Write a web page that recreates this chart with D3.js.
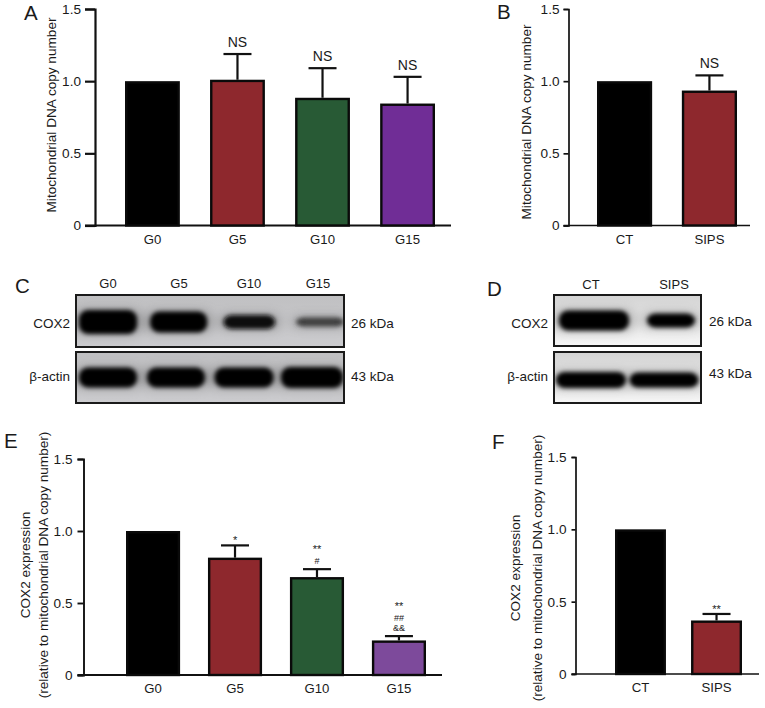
<!DOCTYPE html>
<html><head><meta charset="utf-8">
<script src="https://cdn.jsdelivr.net/npm/d3@7"></script>
<style>html,body{margin:0;background:#fff}svg{display:block}text{font-family:"Liberation Sans",Arial,sans-serif;fill:#1a1a1a}</style>
</head><body><svg id="c" width="765" height="708"></svg>
<script>
// Bar chart data
const groupsLong = ["G0","G5","G10","G15"];
const groupsShort = ["CT","SIPS"];
const yTicks = [0,0.5,1,1.5];
const coloursLong = ["#000000","#8e282d","#285a35","#702d96"];
const coloursLongE = ["#000000","#8e282d","#285a35","#7d4a9b"];
const coloursShort = ["#000000","#8e282d"];
const aValues = [1.0,1.01,0.885,0.845];
const aErrors = [0,0.178,0.205,0.185];
const aMarks = [[],["NS"],["NS"],["NS"]];
const bValues = [1.0,0.935];
const bErrors = [0,0.105];
const bMarks = [[],["NS"]];
const eValues = [1.0,0.815,0.68,0.24];
const eErrors = [0,0.085,0.055,0.03];
const eMarks = [[],["*"],["**","#"],["**","##","&&"]];
const fValues = [1.0,0.37];
const fErrors = [0,0.045];
const fMarks = [[],["**"]];
// Blot data (estimated band strength per lane)
const cBandWidth = [[58,57,52,48],[58,58,59,62]];
const cBandHeight = [[24,21,14,9],[20,20,20,21]];
const cBandTone = [[0,0,0.06,0.34],[0,0,0,0]];
const dBandWidth = [[70,48],[70,69]];
const dBandHeight = [[20,14],[16,15]];
const dBandTone = [[0,0],[0,0]];

const svg = d3.select("#c");
const defs = svg.append("defs");
[["blur",2.2],["halo",6]].forEach(([id,s])=>defs.append("filter").attr("id",id)
  .attr("filterUnits","userSpaceOnUse").attr("x",0).attr("y",260).attr("width",765).attr("height",170)
  .append("feGaussianBlur").attr("stdDeviation",s));

function barPanel(o){
  const x = d3.scaleBand().domain(o.cats).range(o.br).paddingInner(o.pi).paddingOuter(0);
  const y = d3.scaleLinear().domain([0,1.5]).range([o.y0,o.y1]);
  const g = svg.append("g");
  const ax = d3.axisLeft(y).tickValues(yTicks).tickSize(o.tl).tickPadding(o.tp)
    .tickFormat(d=>d===0?"0":d3.format(".1f")(d));
  const ag = g.append("g").attr("transform",`translate(${o.xr[0]},0)`).call(ax);
  ag.select(".domain").attr("stroke","#111").attr("stroke-width",o.sw);
  ag.selectAll(".tick line").attr("stroke","#111").attr("stroke-width",o.sw);
  ag.selectAll("text").attr("font-size",13.6).attr("fill","#222");
  const bx = d3.axisBottom(x).tickSize(0).tickPadding(9);
  const bg = g.append("g").attr("transform",`translate(0,${o.y0})`).call(bx);
  bg.select(".domain").remove();
  bg.append("line").attr("x1",o.xr[0]-o.tl).attr("x2",o.xr[1]).attr("stroke","#111").attr("stroke-width",o.sw);
  bg.selectAll("text").attr("font-size",13.2).attr("fill","#222");
  const items = o.cats.map((c,i)=>({c,v:o.vals[i],e:o.errs[i],col:o.cols[i],m:o.marks[i]}));
  const w = x.bandwidth();
  const it = g.selectAll(".b").data(items).join("g");
  it.filter(d=>d.e>0).append("line")
    .attr("x1",d=>x(d.c)+w/2).attr("x2",d=>x(d.c)+w/2)
    .attr("y1",d=>y(d.v)).attr("y2",d=>y(d.v+d.e)).attr("stroke","#111").attr("stroke-width",2.2);
  it.filter(d=>d.e>0).append("line")
    .attr("x1",d=>x(d.c)+w/2-14).attr("x2",d=>x(d.c)+w/2+14)
    .attr("y1",d=>y(d.v+d.e)).attr("y2",d=>y(d.v+d.e)).attr("stroke","#111").attr("stroke-width",2.2);
  it.append("rect").attr("x",d=>x(d.c)+1.2).attr("width",w-2.4)
    .attr("y",d=>y(d.v)+1.2).attr("height",d=>o.y0-y(d.v)-1.2)
    .attr("fill",d=>d.col).attr("stroke","#0a0a0a").attr("stroke-width",2.4);
  it.each(function(d){
    const top = y(d.v+d.e), n=d.m.length, big = d.m[0]==="NS";
    d3.select(this).selectAll("text").data(d.m).join("text")
      .attr("x",x(d.c)+w/2).attr("text-anchor","middle")
      .attr("y",(t,i)=>{
        if(big) return top-7;
        const k=n-1-i, star=t.includes("*");
        const centre = top-(star&&n===1?6.5:8.5)-k*10-(star&&n>1?3:0);
        return centre+(star?5.5:3.5);
      })
      .attr("font-size",t=>big?14:(t.includes("*")?11:9))
      .text(t=>t);
  });
  const lab = g.append("text").attr("transform",`translate(${o.labelX},${o.labelMid}) rotate(-90)`).attr("text-anchor","middle").attr("font-size",13.6).attr("fill","#222");
  o.label.forEach((t,i)=>lab.append("tspan").attr("x",0).attr("dy",i?o.ld:0).text(t));
  g.append("text").attr("x",o.px).attr("y",o.py).attr("font-size",20.5).text(o.p);
}
barPanel({cats:groupsLong,vals:aValues,errs:aErrors,cols:coloursLong,marks:aMarks,xr:[95,451],br:[125,435],pi:0.355,y0:225.5,y1:9,tl:10,tp:4,sw:2.2,
  label:["Mitochondrial DNA copy number"],labelX:56,labelMid:115,p:"A",px:24,py:20});
barPanel({cats:groupsShort,vals:bValues,errs:bErrors,cols:coloursShort,marks:bMarks,xr:[568.5,750],br:[597,737],pi:0.35,y0:225.5,y1:9,tl:5,tp:4,sw:1.7,
  label:["Mitochondrial DNA copy number"],labelX:531,labelMid:122,p:"B",px:497,py:19});
barPanel({cats:groupsLong,vals:eValues,errs:eErrors,cols:coloursLongE,marks:eMarks,xr:[83.5,442],br:[126,426],pi:0.34,y0:675,y1:459,tl:6,tp:5,sw:1.9,
  label:["COX2 expression","(relative to mitochondrial DNA copy number)"],labelX:30,labelMid:565,ld:18,p:"E",px:4,py:448});
barPanel({cats:groupsShort,vals:fValues,errs:fErrors,cols:coloursShort,marks:fMarks,xr:[575.5,759],br:[615,742],pi:0.33,y0:674,y1:457,tl:4,tp:5,sw:1.7,
  label:["COX2 expression","(relative to mitochondrial DNA copy number)"],labelX:520,labelMid:568,ld:22,p:"F",px:492,py:449});

function blotRow(o){
  const id=o.id;
  const grad=defs.append("linearGradient").attr("id",id).attr("x1",0).attr("x2",0).attr("y1",0).attr("y2",1);
  grad.append("stop").attr("offset",0).attr("stop-color",o.bg[0]);
  grad.append("stop").attr("offset",1).attr("stop-color",o.bg[1]);
  defs.append("clipPath").attr("id",id+"c").append("rect").attr("x",o.x0).attr("y",o.y).attr("width",o.x1-o.x0).attr("height",o.h);
  const g=svg.append("g");
  g.append("rect").attr("x",o.x0).attr("y",o.y).attr("width",o.x1-o.x0).attr("height",o.h).attr("fill",`url(#${id})`);
  const x=d3.scalePoint().domain(o.cats).range(o.lane);
  const tone=d3.scaleLinear().domain([0,1]).range(["#030303","#b5b5b5"]);
  const clip=g.append("g").attr("clip-path",`url(#${id}c)`);
  [["halo",0.45,10],["blur",1,0]].forEach(([f,op,grow])=>{
    clip.append("g").attr("opacity",op).attr("filter",`url(#${f})`).selectAll("rect").data(o.cats).join("rect")
      .attr("x",(d,i)=>x(d)-o.w[i]/2-grow/2).attr("width",(d,i)=>o.w[i]+grow)
      .attr("y",(d,i)=>o.cy-o.ht[i]/2).attr("height",(d,i)=>o.ht[i])
      .attr("rx",9).attr("fill",(d,i)=>tone(f==="halo"?Math.max(o.t[i],0.45):o.t[i]));
  });
  g.append("rect").attr("x",o.x0).attr("y",o.y).attr("width",o.x1-o.x0).attr("height",o.h).attr("fill","none").attr("stroke","#1a1a1a").attr("stroke-width",2);
}
const cBg=["#c0c0c2","#cccccf"], dBg=["#d4d4d4","#f6f6f6"];
blotRow({id:"c1",cats:groupsLong,lane:[108,320],x0:76,x1:344,y:295,h:52,cy:322,w:cBandWidth[0],ht:cBandHeight[0],t:cBandTone[0],bg:cBg});
blotRow({id:"c2",cats:groupsLong,lane:[108,312],x0:76,x1:344,y:352,h:51,cy:377.5,w:cBandWidth[1],ht:cBandHeight[1],t:cBandTone[1],bg:cBg});
blotRow({id:"d1",cats:groupsShort,lane:[594,671],x0:554,x1:701,y:295,h:51,cy:320.5,w:dBandWidth[0],ht:dBandHeight[0],t:dBandTone[0],bg:dBg});
blotRow({id:"d2",cats:groupsShort,lane:[591,664],x0:554,x1:701,y:352,h:51,cy:380,w:dBandWidth[1],ht:dBandHeight[1],t:dBandTone[1],bg:dBg});

const notes=[
 ["C",15,293,20.5,"start"],["D",487,296,20.5,"start"],
 ["COX2",70,327.5,13.5,"end"],["β-actin",70,381,13.5,"end"],["26 kDa",351,328,13.5,"start"],["43 kDa",351,381,13.5,"start"],
 ["COX2",548,328,13.5,"end"],["β-actin",548,381,13.5,"end"],["26 kDa",709,326,13.5,"start"],["43 kDa",709,378,13.5,"start"],
 ["G0",108,288,13,"middle"],["G5",179,288,13,"middle"],["G10",249,288,13,"middle"],["G15",318,288,13,"middle"],
 ["CT",591,289,13,"middle"],["SIPS",674,289,13,"middle"]];
svg.append("g").selectAll("text").data(notes).join("text")
 .attr("x",d=>d[1]).attr("y",d=>d[2]).attr("font-size",d=>d[3]).attr("text-anchor",d=>d[4]).text(d=>d[0]);
</script></body></html>
